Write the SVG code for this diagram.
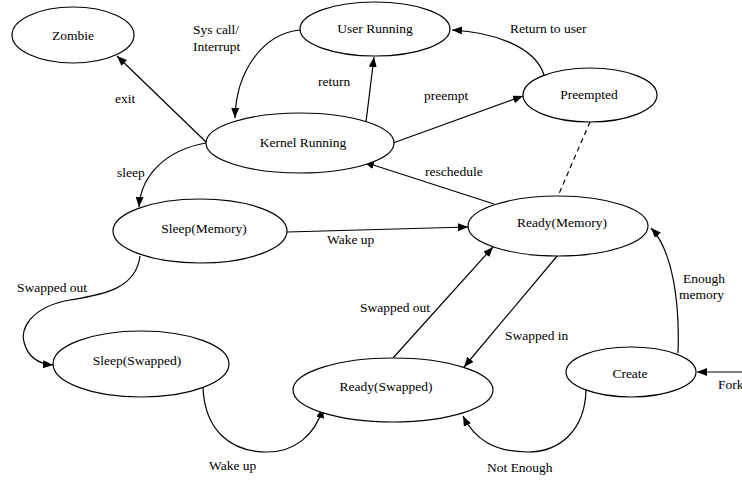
<svg xmlns="http://www.w3.org/2000/svg" width="742" height="480" viewBox="0 0 742 480" font-family="'Liberation Serif', 'Times New Roman', serif">
<defs>
<style>
.n ellipse{fill:#fff;stroke:#000;stroke-width:1.2}
text{font-family:'Liberation Serif','Times New Roman',serif;font-size:13.5px;fill:#000}
.n text{text-anchor:middle}
.c path{fill:none;stroke:#000;stroke-width:1.2}
.c .a{marker-end:url(#ah)}
.c .d{stroke-dasharray:5,4}
</style>
<marker id="ah" markerUnits="userSpaceOnUse" markerWidth="11" markerHeight="9" refX="10" refY="4" orient="auto">
<path d="M0,0 L10,4 L0,8 z" fill="#000"/>
</marker>
</defs>
<rect width="742" height="480" fill="#fff"/>
<g class="c" id="connectors">
<path class="a" d="M206,142 L117,56"/>
<path class="a" d="M300,30 C262,34 236,72 235,118"/>
<path class="a" d="M366,122 L374,57"/>
<path class="a" d="M393,143 L523,96"/>
<path class="a" d="M544,75 C535,46 492,32 452,30"/>
<path class="a" d="M494,204 L364,162"/>
<path class="d" d="M590,122 L558,196"/>
<path class="a" d="M206,143 C166,150 141,175 139,207"/>
<path class="a" d="M287,232 L468,227"/>
<path class="a" d="M140,256 C136,290 100,295 70,300 C30,307 20,330 24,342 C28,358 40,364 53,365"/>
<path class="a" d="M203,388 C205,430 230,452 267,452 C295,452 315,435 323,408"/>
<path class="a" d="M393,358 L493,247"/>
<path class="a" d="M558,255 L464,367"/>
<path class="a" d="M678,353 C680,300 672,250 651,228"/>
<path class="a" d="M742,372 L697,372"/>
<path class="a" d="M586,390 C585,430 560,452 528,452 C495,452 475,440 463,416"/>
</g>
<g class="n" id="zombie"><ellipse cx="73" cy="35" rx="61" ry="28"/><text x="73" y="40">Zombie</text></g>
<g class="n" id="user-running"><ellipse cx="375" cy="29" rx="75" ry="27"/><text x="375" y="33">User Running</text></g>
<g class="n" id="kernel-running"><ellipse cx="300" cy="143" rx="94" ry="30"/><text x="303" y="147">Kernel Running</text></g>
<g class="n" id="preempted"><ellipse cx="590" cy="95" rx="67" ry="27"/><text x="589" y="99">Preempted</text></g>
<g class="n" id="sleep-memory"><ellipse cx="200" cy="231" rx="87" ry="32"/><text x="204" y="233">Sleep(Memory)</text></g>
<g class="n" id="ready-memory"><ellipse cx="558" cy="226" rx="90" ry="30"/><text x="562" y="227">Ready(Memory)</text></g>
<g class="n" id="sleep-swapped"><ellipse cx="141" cy="364" rx="88" ry="33"/><text x="137" y="365">Sleep(Swapped)</text></g>
<g class="n" id="ready-swapped"><ellipse cx="393" cy="390" rx="100" ry="32"/><text x="386" y="391">Ready(Swapped)</text></g>
<g class="n" id="create"><ellipse cx="631" cy="372" rx="65" ry="25"/><text x="630" y="378">Create</text></g>
<g id="labels">
<text x="193" y="34">Sys call/</text>
<text x="193" y="51">Interrupt</text>
<text x="318" y="86">return</text>
<text x="115" y="103">exit</text>
<text x="117" y="177">sleep</text>
<text x="424" y="100">preempt</text>
<text x="510" y="33">Return to user</text>
<text x="425" y="176">reschedule</text>
<text x="327" y="244">Wake up</text>
<text x="17" y="292">Swapped out</text>
<text x="360" y="312">Swapped out</text>
<text x="505" y="340">Swapped in</text>
<text x="683" y="283">Enough</text>
<text x="679" y="299">memory</text>
<text x="718" y="389">Fork</text>
<text x="209" y="470">Wake up</text>
<text x="487" y="472">Not Enough</text>
</g>
</svg>
